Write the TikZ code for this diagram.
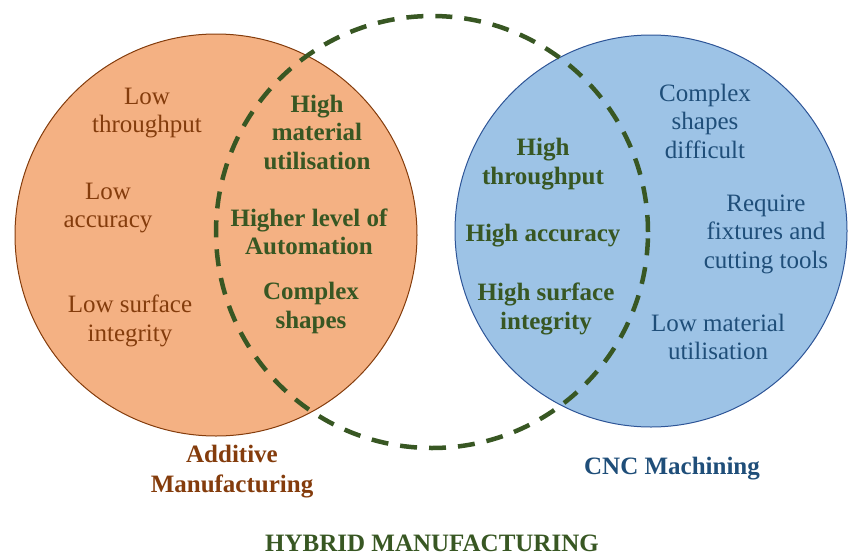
\documentclass[tikz,border=0pt]{standalone}
\usepackage{fontspec}
\setmainfont{Liberation Serif}
\newfontfamily\timesfont{Liberation Serif}
\definecolor{amfill}{HTML}{F4B183}
\definecolor{amline}{HTML}{843C0C}
\definecolor{cncfill}{HTML}{9DC3E6}
\definecolor{cncline}{HTML}{2E5597}
\definecolor{cnctext}{HTML}{1F4E79}
\definecolor{hybrid}{HTML}{385723}
\tikzset{
    txt/.style = {align = center, inner sep = 0pt, font = \timesfont\fontsize{25}{28.5}\selectfont},
    lowam/.style = {txt, text = amline},
    lowcnc/.style = {txt, text = cnctext},
    high/.style = {txt, text = hybrid, font = \timesfont\fontsize{25}{28.5}\selectfont\bfseries},
}
\begin{document}
\begin{tikzpicture}[x = 1pt, y = -1pt]
        \useasboundingbox (0, 0) rectangle (848, 557);
        \draw
            (216, 235) node (am) [draw = amline, fill = amfill, circle, minimum size = 402pt, line width = 1pt] {}
            (651, 231) node (cnc) [draw = cncline, fill = cncfill, circle, minimum size = 392pt, line width = 1pt] {}
        ;
        \draw [hybrid, line width = 4.5pt, dash pattern = on 17pt off 12pt]
            (432, 232) node (hm) [draw, circle, minimum size = 432pt] {}
        ;
        \draw
            (147, 113) node (a1) [lowam] {Low\\throughput}
            (108, 208) node (a2) [lowam] {Low\\accuracy}
            (130, 321) node (a3) [lowam] {Low surface\\integrity}

            (317, 132) node (h1) [high] {High\\material\\utilisation}
            (309, 232) node (h2) [high] {Higher level of\\Automation}
            (311, 308) node (h3) [high] {Complex\\shapes}

            (543, 164) node (h4) [high] {High\\throughput}
            (543, 236) node (h5) [high] {High accuracy}
            (546, 309) node (h6) [high] {High surface\\integrity}

            (705, 121) node (c1) [lowcnc] {Complex\\shapes\\difficult}
            (766, 234) node (c2) [lowcnc] {Require\\fixtures and\\cutting tools}
            (718, 337) node (c3) [lowcnc] {Low material\\utilisation}

            (232, 472) node (aml) [lowam, font = \timesfont\fontsize{25}{30}\selectfont\bfseries] {Additive\\Manufacturing}
            (672, 469) node (cncl) [lowcnc, font = \timesfont\fontsize{25}{28.5}\selectfont\bfseries] {CNC Machining}
            (432, 551) node (hml) [high, anchor = base] {HYBRID MANUFACTURING}
        ;
    \end{tikzpicture}
\end{document}
